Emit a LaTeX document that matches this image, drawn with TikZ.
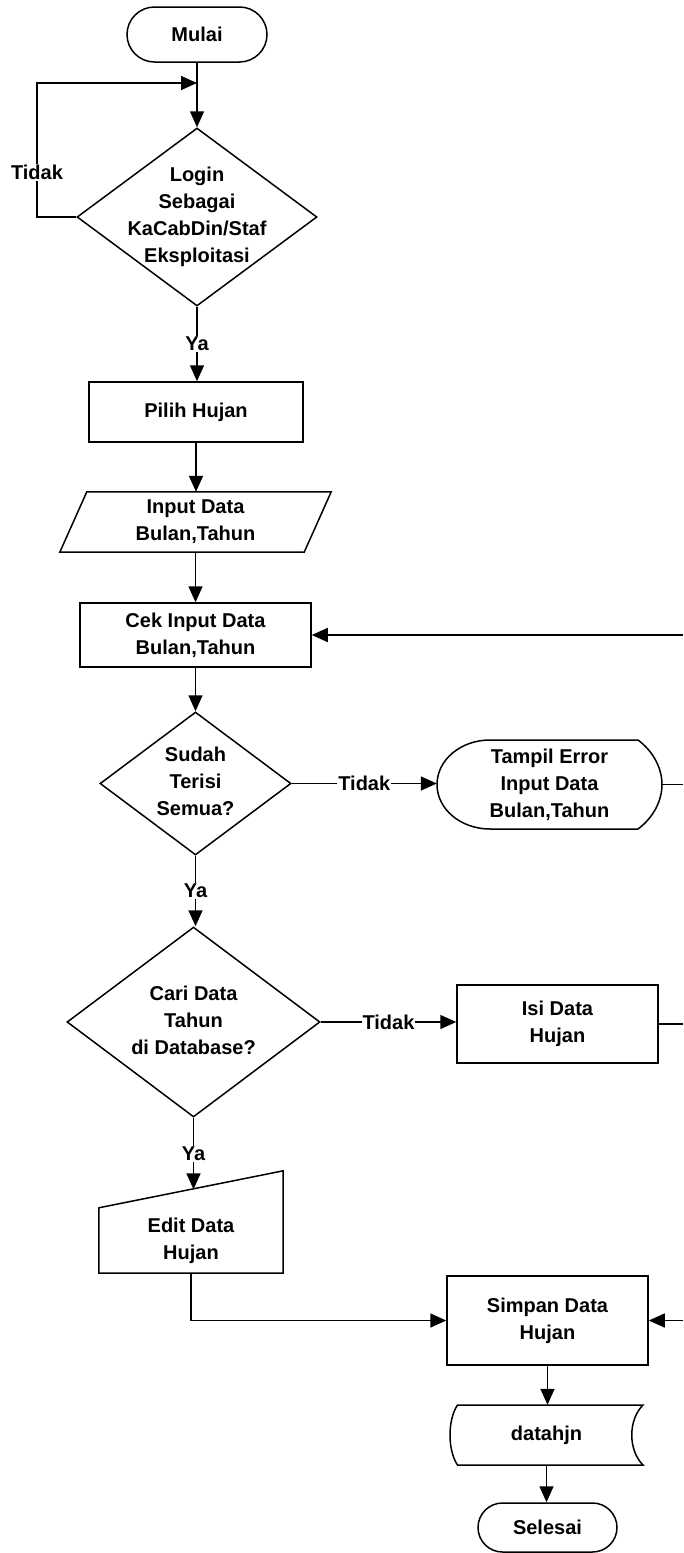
\documentclass[tikz,border=0pt]{standalone}
\usepackage{fontspec}
\setmainfont{Liberation Sans}
\usetikzlibrary{arrows.meta,shapes.geometric,shapes.misc,calc}
\newcommand\dtext[1]{\smash{\raisebox{-0.25em}{\makebox[0pt]{\begin{tabular}{@{}c@{}}#1\end{tabular}}}}}
\begin{document}
\begin{tikzpicture}[x=1pt,y=-1pt,
  every node/.style={font=\fontsize{20}{27}\selectfont\bfseries},
  base/.style={draw, line width=1.5pt, align=center, inner sep=0pt},
  procbox/.style={base, rectangle},
  term/.style={base, rounded rectangle},
  decide/.style={base, diamond},
  ghost/.style={align=center, inner sep=0pt},
  shapeline/.style={line width=1.5pt, line join=miter},
  conn/.style={line width=1.5pt, -{Triangle[length=16pt,width=14pt]}},
  plain/.style={line width=1.5pt},
  lbl/.style={fill=white, inner sep=1pt, font=\fontsize{20}{24}\selectfont\bfseries}
]
\useasboundingbox (0,0) rectangle (683,1553);
\coordinate (redge) at (683,0);

% nodes
\node[term, minimum width=140pt, minimum height=55pt] (mulai) at (197,34.5) {Mulai};
\node[decide, minimum width=240pt, minimum height=178pt] (login) at (197,217) {\dtext{Login\\Sebagai\\KaCabDin/Staf\\Eksploitasi}};
\node[procbox, minimum width=214pt, minimum height=60pt] (pilih) at (196,412) {Pilih Hujan};
\node[ghost, minimum width=271pt, minimum height=60pt] (input) at (195.5,522) {Input Data\\Bulan,Tahun};
\draw[shapeline] ($(input.north west)+(27,0)$) -- (input.north east) -- ($(input.south east)+(-27,0)$) -- (input.south west) -- cycle;
\node[procbox, minimum width=231pt, minimum height=64pt] (cek) at (195.5,635) {Cek Input Data\\Bulan,Tahun};
\node[decide, minimum width=191pt, minimum height=143pt] (sudah) at (195.5,783.5) {\dtext{Sudah\\Terisi\\Semua?}};
\node[ghost, minimum width=225pt, minimum height=89pt] (tampil) at (549.5,784.5) {Tampil Error\\Input Data\\Bulan,Tahun};
\begin{scope}[shift={(tampil.center)}]
\draw[shapeline] (-59.5,-44.5) -- (88.5,-44.5) .. controls (104,-33) and (112.5,-16) .. (112.5,0)
  .. controls (112.5,16) and (104,33) .. (88.5,44.5) -- (-59.5,44.5)
  .. controls (-88.8,44.5) and (-112.5,24.6) .. (-112.5,0)
  .. controls (-112.5,-24.6) and (-88.8,-44.5) .. (-59.5,-44.5) -- cycle;
\end{scope}
\node[decide, minimum width=253pt, minimum height=190pt] (cari) at (193.5,1022) {\dtext{Cari Data\\Tahun\\di Database?}};
\node[procbox, minimum width=201pt, minimum height=78pt] (isi) at (557.5,1024) {Isi Data\\Hujan};
\node[ghost, minimum width=184pt, minimum height=65pt] (edit) at (191,1240.5) {Edit Data\\Hujan};
\draw[shapeline] (edit.south west) -- (edit.north west) -- ($(edit.north east)+(0,-37)$) -- (edit.south east) -- cycle;
\coordinate (edittop) at ($(edit.north west)!0.5!(edit.north east)+(0,-18.5)$);
\node[procbox, minimum width=201pt, minimum height=89pt] (simpan) at (547.5,1320.5) {Simpan Data\\Hujan};
\node[ghost, minimum width=193pt, minimum height=60pt] (datahjn) at (546.5,1435) {datahjn};
\begin{scope}[shift={(datahjn.center)}]
\draw[shapeline] (-89,-30) -- (96.5,-30) .. controls (81.5,-15) and (81.5,15) .. (96.5,30)
  -- (-89,30) .. controls (-99,15) and (-99,-15) .. (-89,-30) -- cycle;
\end{scope}
\node[term, minimum width=139pt, minimum height=49pt] (selesai) at (547.5,1527.5) {Selesai};

% connectors
\coordinate (loopb) at (37,217);
\coordinate (loopc) at (37,83);
\draw[conn] (mulai.south) -- (login.north);
\draw[conn] (login.west) -- (loopb) -- node[lbl,pos=0.33]{Tidak} (loopc) -- (mulai.south |- loopc);
\draw[conn] (login.south) -- node[lbl]{Ya} (login.south |- pilih.north);
\draw[conn] (pilih.south) -- (pilih.south |- input.north);
\draw[conn] (input.south) -- (input.south |- cek.north);
\draw[conn] (cek.south) -- (sudah.north);
\draw[conn] (sudah.east) -- node[lbl]{Tidak} (sudah.east -| tampil.west);
\draw[plain] (tampil.east) -- (tampil.east -| redge);
\draw[conn] (cek.east -| redge) -- (cek.east);
\draw[conn] (sudah.south) -- node[lbl]{Ya} (sudah.south |- cari.north);
\draw[conn] (cari.east) -- node[lbl]{Tidak} (cari.east -| isi.west);
\draw[plain] (isi.east) -- (isi.east -| redge);
\draw[conn] (cari.south) -- node[lbl]{Ya} (cari.south |- edittop);
\draw[conn] (edit.south) |- (simpan.west);
\draw[conn] (simpan.east -| redge) -- (simpan.east);
\draw[conn] (simpan.south) -- (simpan.south |- datahjn.north);
\draw[conn] (datahjn.south) -- (datahjn.south |- selesai.north);
\end{tikzpicture}
\end{document}
